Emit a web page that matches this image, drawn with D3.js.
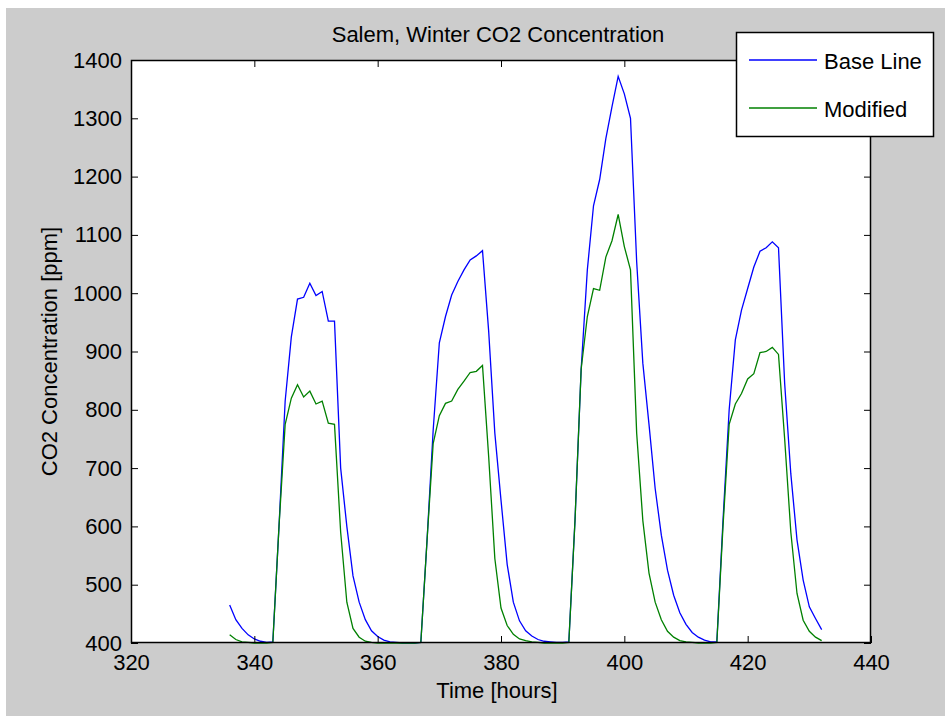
<!DOCTYPE html>
<html>
<head>
<meta charset="utf-8">
<script src="https://cdn.jsdelivr.net/npm/d3@7"></script>
<style>
  html, body { margin: 0; padding: 0; background: #ffffff; }
  svg { display: block; }
  text { font-family: "Liberation Sans", Arial, Helvetica, sans-serif; fill: #000; }
</style>
</head>
<body>
<svg id="chart" width="945" height="716"></svg>
<script>
// Hourly CO2 concentration, Salem winter run
const hours = d3.range(336, 433);

const baseLine = [
  465, 440, 425, 414, 407, 403, 401, 402, 600, 815,   // 336-345
  925, 990, 993, 1017, 996, 1003, 952, 952, 700, 600, // 346-355
  515, 470, 440, 421, 411, 405, 402, 401, 400, 400,   // 356-365
  400, 401, 575, 765, 915, 960, 997, 1020, 1040, 1057,// 366-375
  1064, 1073, 935, 760, 645, 535, 470, 438, 421, 412, // 376-385
  406, 403, 402, 401, 401, 402, 610, 870, 1040, 1150, // 386-395
  1195, 1265, 1320, 1372, 1342, 1300, 1054, 880, 775, 665, // 396-405
  585, 525, 482, 452, 432, 418, 410, 405, 402, 402,   // 406-415
  610, 800, 920, 971, 1008, 1045, 1072, 1078, 1088, 1078, // 416-425
  845, 690, 577, 508, 462, 442, 423                   // 426-432
];

const modified = [
  414, 406, 402, 401, 400, 400, 400, 401, 600, 775,   // 336-345
  820, 843, 822, 832, 810, 815, 777, 775, 590, 470,   // 346-355
  425, 410, 403, 401, 400, 400, 400, 400, 400, 400,   // 356-365
  400, 401, 575, 742, 790, 811, 815, 835, 849, 864,   // 366-375
  866, 876, 720, 545, 460, 430, 415, 407, 404, 402,   // 376-385
  401, 400, 400, 400, 400, 401, 610, 870, 960, 1008,  // 386-395
  1005, 1062, 1090, 1135, 1080, 1040, 760, 610, 520, 470, // 396-405
  440, 420, 410, 404, 402, 401, 400, 400, 400, 401,   // 406-415
  600, 775, 810, 828, 853, 862, 898, 900, 907, 895,   // 416-425
  750, 590, 485, 439, 420, 410, 404                   // 426-432
];

const seriesNames = ["Base Line", "Modified"];
const seriesColors = ["#0000ff", "#008000"];
const xTicks = [320, 340, 360, 380, 400, 420, 440];
const yTicks = [400, 500, 600, 700, 800, 900, 1000, 1100, 1200, 1300, 1400];

const titleText = "Salem, Winter CO2 Concentration";
const xLabel = "Time [hours]";
const yLabel = "CO2 Concentration [ppm]";

const W = 945, H = 716;
const plot = { left: 131, right: 871, top: 60, bottom: 643 };
const FS = 22;

const svg = d3.select("#chart");

// figure background
svg.append("rect").attr("x", 6).attr("y", 8).attr("width", W - 6).attr("height", H - 8)
  .attr("fill", "#cccccc");

// axes area
svg.append("rect")
  .attr("x", plot.left).attr("y", plot.top)
  .attr("width", plot.right - plot.left).attr("height", plot.bottom - plot.top)
  .attr("fill", "#ffffff");

const x = d3.scaleLinear().domain([320, 440]).range([plot.left, plot.right]);
const y = d3.scaleLinear().domain([400, 1400]).range([plot.bottom, plot.top]);

// data lines
const series = [baseLine, modified];
const line = d3.line().x((d, i) => x(hours[i])).y(d => y(d));
const plotArea = svg.append("g");
series.forEach((vals, k) => {
  plotArea.append("path")
    .datum(vals)
    .attr("fill", "none")
    .attr("stroke", seriesColors[k])
    .attr("stroke-width", 1.3)
    .attr("d", line);
});

// axes with inward ticks on all four sides
const TL = 7;
function styleAxis(g) {
  g.select(".domain").remove();
  g.selectAll(".tick line").attr("stroke", "#000").attr("stroke-width", 1);
  g.selectAll(".tick text").attr("font-size", FS).attr("fill", "#000")
    .attr("font-family", "Liberation Sans, Arial, sans-serif");
}
svg.append("g").attr("transform", `translate(0,${plot.bottom})`)
  .call(d3.axisBottom(x).tickValues(xTicks).tickSize(-TL).tickPadding(11).tickFormat(d3.format("d")))
  .call(styleAxis);
svg.append("g").attr("transform", `translate(${plot.left},0)`)
  .call(d3.axisLeft(y).tickValues(yTicks).tickSize(-TL).tickPadding(9).tickFormat(d3.format("d")))
  .call(styleAxis);
svg.append("g").attr("transform", `translate(0,${plot.top})`)
  .call(d3.axisTop(x).tickValues(xTicks).tickSize(-TL).tickFormat(""))
  .call(styleAxis);
svg.append("g").attr("transform", `translate(${plot.right},0)`)
  .call(d3.axisRight(y).tickValues(yTicks).tickSize(-TL).tickFormat(""))
  .call(styleAxis);

// axes box
svg.append("rect")
  .attr("x", plot.left + 0.5).attr("y", plot.top + 0.5)
  .attr("width", plot.right - plot.left - 1).attr("height", plot.bottom - plot.top - 1)
  .attr("fill", "none").attr("stroke", "#000").attr("stroke-width", 1.5);

// title and axis labels
svg.append("text").attr("x", (plot.left + plot.right) / 2 - 3).attr("y", 42)
  .attr("text-anchor", "middle").attr("font-size", FS).text(titleText);
svg.append("text").attr("x", (plot.left + plot.right) / 2 - 4).attr("y", 698)
  .attr("text-anchor", "middle").attr("font-size", FS).text(xLabel);
svg.append("text")
  .attr("transform", `translate(57,${(plot.top + plot.bottom) / 2}) rotate(-90)`)
  .attr("text-anchor", "middle").attr("font-size", FS).text(yLabel);

// legend
const legend = svg.append("g");
legend.append("rect")
  .attr("x", 736.5).attr("y", 32.5).attr("width", 197).attr("height", 104)
  .attr("fill", "#ffffff").attr("stroke", "#000").attr("stroke-width", 1.5);
seriesNames.forEach((name, k) => {
  const ly = 60 + k * 48;
  legend.append("line")
    .attr("x1", 749).attr("x2", 817).attr("y1", ly).attr("y2", ly)
    .attr("stroke", seriesColors[k]).attr("stroke-width", 1.3);
  legend.append("text")
    .attr("x", 824).attr("y", ly + 9)
    .attr("font-size", FS).text(name);
});
</script>
</body>
</html>
